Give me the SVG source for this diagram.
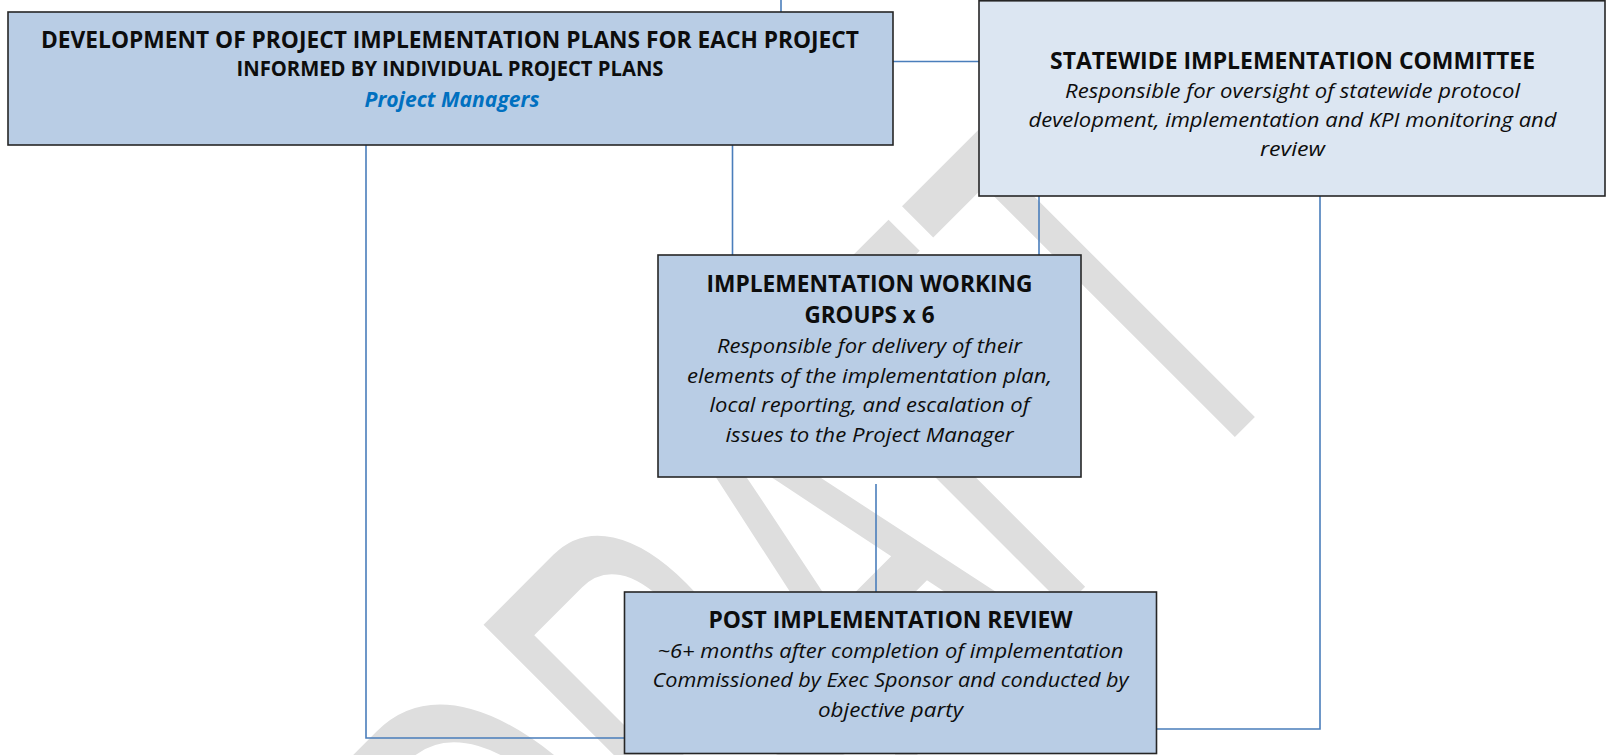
<svg xmlns="http://www.w3.org/2000/svg" width="1607" height="755" viewBox="0 0 1607 755">
<style>
.box{stroke:#262626;stroke-width:1.6}
.mid{fill:#b9cde5}
.light{fill:#dce6f2}
.c{stroke:#4a7ebb;stroke-width:1.6;fill:none}
text{font-family:"Open Sans","Liberation Sans",sans-serif;fill:#0d0d0d;text-anchor:middle}
.b{font-weight:bold;font-size:24px}
.i{font-style:italic;font-size:20px}
.wm{font-family:"Liberation Sans",Arial,sans-serif;font-size:305px;fill:#dedede;text-anchor:start}
</style>
<rect width="1607" height="755" fill="#ffffff"/>
<g id="watermark">
<text class="wm" transform="translate(592,1080) rotate(-45) scale(1,1.9)" x="0" y="0">DRAFT</text>
</g>
<g id="connectors">
<line class="c" x1="781" y1="0" x2="781" y2="12"/>
<line class="c" x1="893" y1="61.5" x2="979" y2="61.5"/>
<polyline class="c" points="366,145 366,738 625,738"/>
<line class="c" x1="732.5" y1="145" x2="732.5" y2="255"/>
<line class="c" x1="1039" y1="196" x2="1039" y2="255"/>
<polyline class="c" points="1320,196 1320,729 1156,729"/>
<line class="c" x1="876" y1="484" x2="876" y2="592"/>
</g>
<g id="node-development">
<rect class="box mid" x="8" y="12" width="885" height="133"/>
<text class="b" x="450" y="48.3" style="font-size:23px" textLength="818" lengthAdjust="spacingAndGlyphs">DEVELOPMENT OF PROJECT IMPLEMENTATION PLANS FOR EACH PROJECT</text>
<text class="b" x="450" y="76" style="font-size:21px" textLength="427" lengthAdjust="spacingAndGlyphs">INFORMED BY INDIVIDUAL PROJECT PLANS</text>
<text class="b" x="452" y="107" style="font-size:21.5px;font-style:italic;fill:#0070c0" textLength="175" lengthAdjust="spacingAndGlyphs">Project Managers</text>
</g>
<g id="node-statewide">
<rect class="box light" x="979" y="0.8" width="626" height="195.2"/>
<text class="b" x="1292.5" y="68.5" textLength="485" lengthAdjust="spacingAndGlyphs">STATEWIDE IMPLEMENTATION COMMITTEE</text>
<text class="i" x="1292.5" y="97.5" textLength="455" lengthAdjust="spacingAndGlyphs">Responsible for oversight of statewide protocol</text>
<text class="i" x="1292.5" y="126.5" textLength="528" lengthAdjust="spacingAndGlyphs">development, implementation and KPI monitoring and</text>
<text class="i" x="1292.5" y="156" textLength="65" lengthAdjust="spacingAndGlyphs">review</text>
</g>
<g id="node-working-groups">
<rect class="box mid" x="658" y="255" width="423" height="222"/>
<text class="b" x="869.5" y="291.5" textLength="326" lengthAdjust="spacingAndGlyphs">IMPLEMENTATION WORKING</text>
<text class="b" x="869.5" y="322.5" textLength="130" lengthAdjust="spacingAndGlyphs">GROUPS x 6</text>
<text class="i" x="869.5" y="352.5" textLength="305" lengthAdjust="spacingAndGlyphs">Responsible for delivery of their</text>
<text class="i" x="869.5" y="382.5" textLength="365" lengthAdjust="spacingAndGlyphs">elements of the implementation plan,</text>
<text class="i" x="869.5" y="411.5" textLength="320" lengthAdjust="spacingAndGlyphs">local reporting, and escalation of</text>
<text class="i" x="869.5" y="441.5" textLength="288" lengthAdjust="spacingAndGlyphs">issues to the Project Manager</text>
</g>
<g id="node-post-review">
<rect class="box mid" x="624.5" y="592" width="532" height="161.5"/>
<text class="b" x="890.5" y="628" textLength="364" lengthAdjust="spacingAndGlyphs">POST IMPLEMENTATION REVIEW</text>
<text class="i" x="890.5" y="658" textLength="466" lengthAdjust="spacingAndGlyphs">~6+ months after completion of implementation</text>
<text class="i" x="890.5" y="687" textLength="476" lengthAdjust="spacingAndGlyphs">Commissioned by Exec Sponsor and conducted by</text>
<text class="i" x="890.5" y="716.5" textLength="145" lengthAdjust="spacingAndGlyphs">objective party</text>
</g>
</svg>
